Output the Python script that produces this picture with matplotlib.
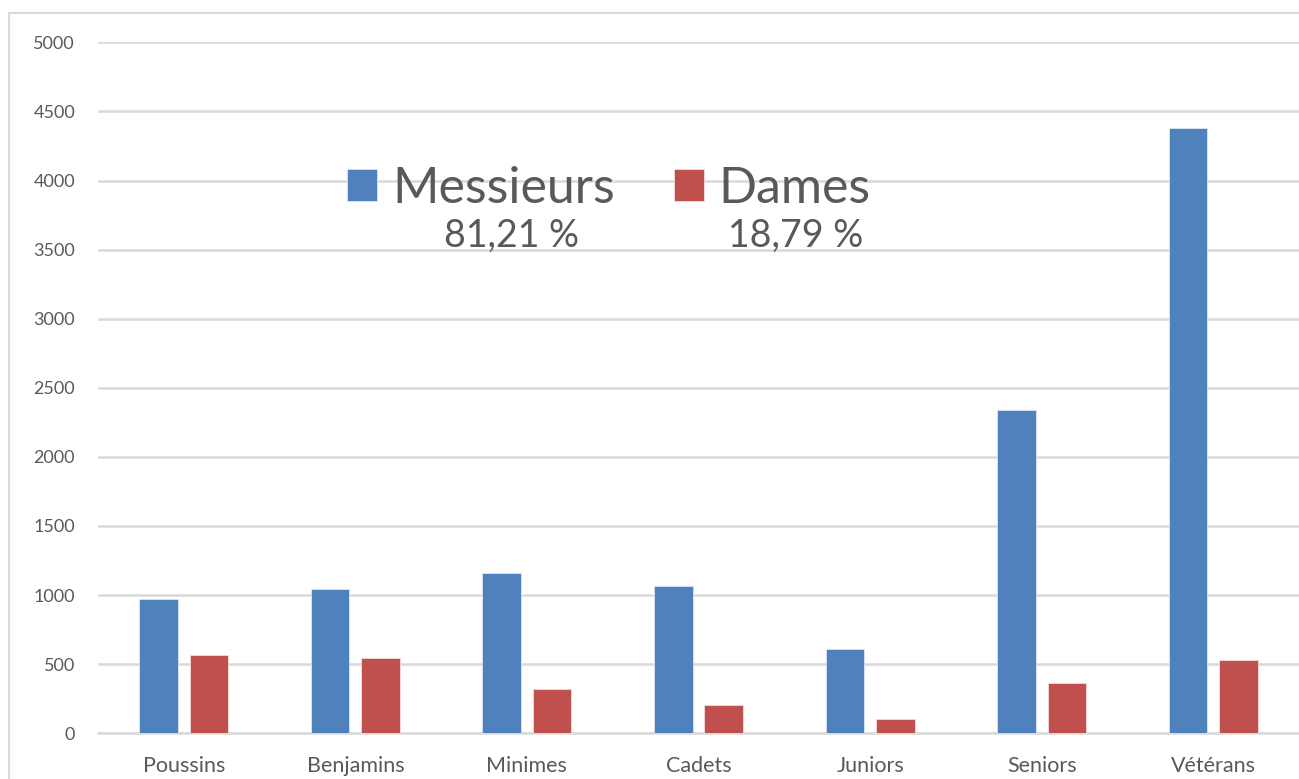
import matplotlib.pyplot as plt
import matplotlib.patches as mpatches
import numpy as np

plt.rcParams['font.family'] = ['Lato', 'DejaVu Sans']

# Data
categories = ["Poussins", "Benjamins", "Minimes", "Cadets", "Juniors", "Seniors", "Vétérans"]
messieurs = [972, 1046, 1162, 1068, 608, 2339, 4380]
dames = [567, 545, 321, 207, 106, 362, 530]
series_names = ["Messieurs", "Dames"]
shares = ["81,21 %", "18,79 %"]
y_ticks = [0, 500, 1000, 1500, 2000, 2500, 3000, 3500, 4000, 4500, 5000]

blue = "#4F81BD"
red = "#C0504D"
grey_text = "#595959"
grid_col = "#D9D9D9"

fig = plt.figure(figsize=(12.99, 7.79), dpi=100)

# chart frame (cropped on the right and bottom)
frame = mpatches.Rectangle((9 / 1299, -0.2), 2, 1 - 13 / 779 + 0.2,
                           transform=fig.transFigure, fill=False,
                           edgecolor=grid_col, linewidth=1.5)
fig.patches.append(frame)

ax = fig.add_axes([98 / 1299, 45.7 / 779, 1201 / 1299, 691 / 779])

x = np.arange(len(categories))
w = 0.225
off = 0.147
b1 = ax.bar(x - off, messieurs, w, color=blue, edgecolor="#DCE6F2", linewidth=0.6, zorder=3)
b2 = ax.bar(x + off, dames, w, color=red, edgecolor="#F2DCDB", linewidth=0.6, zorder=3)

ax.set_xlim(-0.5, len(categories) - 0.5)
ax.set_ylim(0, 5000)
ax.set_yticks(y_ticks)
ax.set_xticks(x)
ax.set_xticklabels(categories)
ax.yaxis.grid(True, color=grid_col, linewidth=1.8, zorder=0)
ax.set_axisbelow(True)
for s in ["top", "right", "left"]:
    ax.spines[s].set_visible(False)
ax.spines["bottom"].set_color(grid_col)
ax.spines["bottom"].set_linewidth(1.8)
ax.tick_params(axis="y", length=0, pad=16.5, labelsize=13, labelcolor=grey_text)
ax.tick_params(axis="x", length=0, pad=16, labelsize=15.5, labelcolor=grey_text)

leg = ax.legend([b1, b2], series_names, loc="upper left",
                bbox_to_anchor=((347 - 98) / 1201, (736.7 - 169) / 691),
                ncol=2, frameon=False, fontsize=36,
                handlelength=0.6, handleheight=0.6, handletextpad=0.3,
                columnspacing=1.18, borderpad=0, borderaxespad=0)
for t in leg.get_texts():
    t.set_color(grey_text)

ax.text((512 - 98) / 1201, (779 - 236 - 45.7) / 691, shares[0], transform=ax.transAxes,
        ha="center", va="center", fontsize=27, color=grey_text)
ax.text((796 - 98) / 1201, (779 - 236 - 45.7) / 691, shares[1], transform=ax.transAxes,
        ha="center", va="center", fontsize=27, color=grey_text)

fig.savefig("out.png", dpi=100)
